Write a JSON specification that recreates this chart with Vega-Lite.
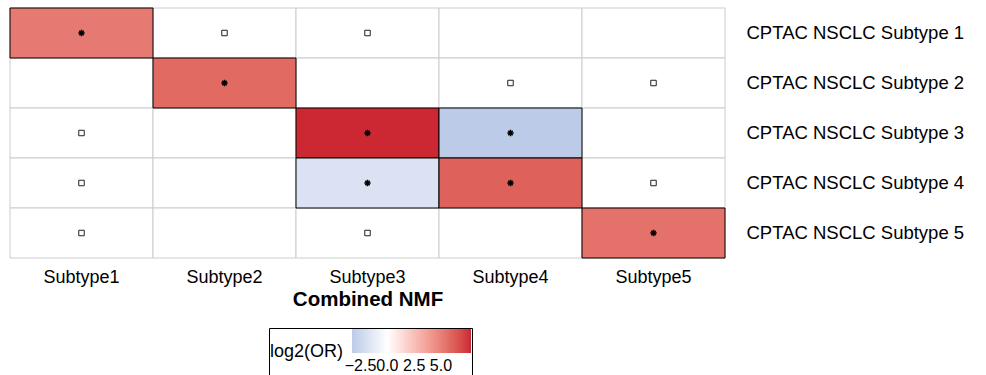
{
  "$schema": "https://vega.github.io/schema/vega-lite/v6.json",
  "width": 715,
  "height": 250,
  "padding": {"left": 9, "top": 7, "right": 5, "bottom": 5},
  "background": "white",
  "config": {
    "font": "Liberation Sans",
    "view": {"stroke": null}
  },
  "data": {
    "values": [
      {"x": "Subtype1", "y": "CPTAC NSCLC Subtype 1", "value": 5.2, "sig": true},
      {"x": "Subtype2", "y": "CPTAC NSCLC Subtype 1", "value": 0.4, "sig": false},
      {"x": "Subtype3", "y": "CPTAC NSCLC Subtype 1", "value": 0.2, "sig": false},
      {"x": "Subtype4", "y": "CPTAC NSCLC Subtype 1", "value": null, "sig": false},
      {"x": "Subtype5", "y": "CPTAC NSCLC Subtype 1", "value": null, "sig": false},
      {"x": "Subtype1", "y": "CPTAC NSCLC Subtype 2", "value": null, "sig": false},
      {"x": "Subtype2", "y": "CPTAC NSCLC Subtype 2", "value": 5.8, "sig": true},
      {"x": "Subtype3", "y": "CPTAC NSCLC Subtype 2", "value": null, "sig": false},
      {"x": "Subtype4", "y": "CPTAC NSCLC Subtype 2", "value": -0.3, "sig": false},
      {"x": "Subtype5", "y": "CPTAC NSCLC Subtype 2", "value": -0.1, "sig": false},
      {"x": "Subtype1", "y": "CPTAC NSCLC Subtype 3", "value": 0.1, "sig": false},
      {"x": "Subtype2", "y": "CPTAC NSCLC Subtype 3", "value": null, "sig": false},
      {"x": "Subtype3", "y": "CPTAC NSCLC Subtype 3", "value": 7.8, "sig": true},
      {"x": "Subtype4", "y": "CPTAC NSCLC Subtype 3", "value": -3.3, "sig": true},
      {"x": "Subtype5", "y": "CPTAC NSCLC Subtype 3", "value": null, "sig": false},
      {"x": "Subtype1", "y": "CPTAC NSCLC Subtype 4", "value": 0.1, "sig": false},
      {"x": "Subtype2", "y": "CPTAC NSCLC Subtype 4", "value": null, "sig": false},
      {"x": "Subtype3", "y": "CPTAC NSCLC Subtype 4", "value": -1.8, "sig": true},
      {"x": "Subtype4", "y": "CPTAC NSCLC Subtype 4", "value": 6.1, "sig": true},
      {"x": "Subtype5", "y": "CPTAC NSCLC Subtype 4", "value": 0.2, "sig": false},
      {"x": "Subtype1", "y": "CPTAC NSCLC Subtype 5", "value": -0.1, "sig": false},
      {"x": "Subtype2", "y": "CPTAC NSCLC Subtype 5", "value": null, "sig": false},
      {"x": "Subtype3", "y": "CPTAC NSCLC Subtype 5", "value": 0.2, "sig": false},
      {"x": "Subtype4", "y": "CPTAC NSCLC Subtype 5", "value": null, "sig": false},
      {"x": "Subtype5", "y": "CPTAC NSCLC Subtype 5", "value": 5.5, "sig": true}
    ]
  },
  "encoding": {
    "x": {
      "field": "x", "type": "nominal",
      "scale": {"paddingInner": 0, "paddingOuter": 0},
      "axis": {
        "title": "Combined NMF", "titleFontSize": 20.5, "titleFontWeight": "bold", "titleColor": "black",
        "titlePadding": 3,
        "labelFontSize": 18, "labelColor": "black", "labelAngle": 0, "labelPadding": 10,
        "domain": false, "ticks": false
      }
    },
    "y": {
      "field": "y", "type": "nominal",
      "scale": {"paddingInner": 0, "paddingOuter": 0},
      "axis": {
        "orient": "right", "title": null,
        "labelFontSize": 18.5, "labelColor": "black", "labelPadding": 21, "labelLimit": 400,
        "domain": false, "ticks": false
      }
    }
  },
  "layer": [
    {
      "mark": {"type": "rect", "fill": "white", "stroke": "#cccccc", "strokeWidth": 1}
    },
    {
      "transform": [{"filter": "datum.sig"}],
      "mark": {"type": "rect", "stroke": "black", "strokeWidth": 1},
      "encoding": {
        "fill": {
          "field": "value", "type": "quantitative",
          "scale": {"domain": [-3.3, 0, 7.8], "range": ["#bccbe8", "#ffffff", "#cc2834"], "interpolate": "lab"},
          "legend": {
            "title": "log2(OR)", "orient": "none", "legendX": 259, "legendY": 320,
            "direction": "horizontal", "titleOrient": "left", "titleFontSize": 18, "titleFontWeight": "normal",
            "titleColor": "black", "titleAnchor": "end", "titleBaseline": "middle", "titlePadding": 8,
            "gradientLength": 119, "gradientThickness": 24,
            "labelFontSize": 16, "labelColor": "black", "labelOffset": 5, "labelOverlap": false,
            "values": [-2.5, 0, 2.5, 5],
            "labelExpr": "format(datum.value, '.1f')",
            "strokeColor": "black", "padding": 1,
            "gradientStrokeWidth": 0
          }
        }
      }
    },
    {
      "transform": [{"filter": "!datum.sig && isValid(datum.value)"}],
      "mark": {"type": "point", "shape": "square", "size": 30, "filled": true, "stroke": "#222222", "strokeWidth": 1, "opacity": 1},
      "encoding": {
        "fill": {"field": "value", "type": "quantitative"}
      }
    },
    {
      "transform": [{"filter": "datum.sig"}],
      "mark": {
        "type": "point",
        "shape": "M-1,0L1,0M0,-1L0,1M-0.7,-0.7L0.7,0.7M-0.7,0.7L0.7,-0.7",
        "size": 40, "filled": false, "stroke": "black", "strokeWidth": 1.5, "opacity": 1
      }
    }
  ]
}
